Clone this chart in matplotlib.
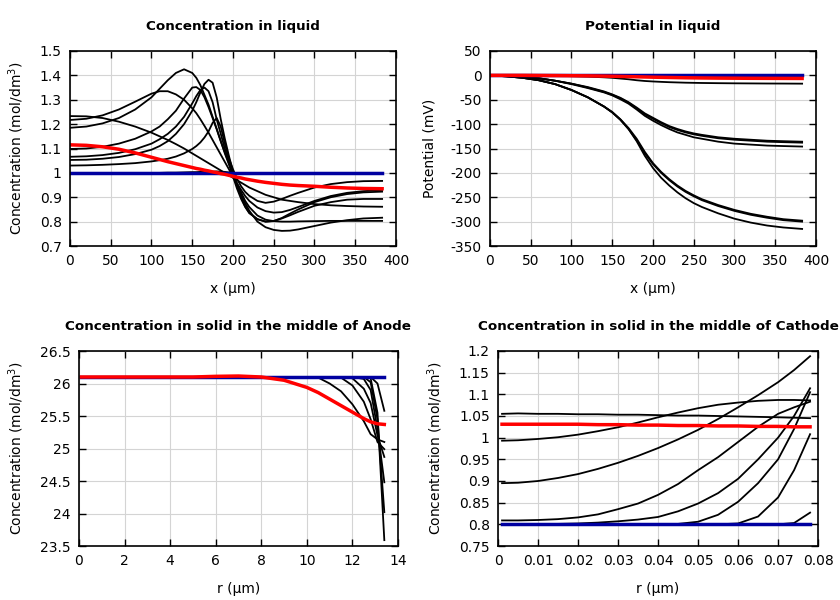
#import libraries
import matplotlib
matplotlib.use("Agg")
import matplotlib.pyplot as plt
from matplotlib.ticker import FuncFormatter, MultipleLocator

#liquid concentration data (x in um)
x_cl = [0, 20, 40, 60, 80, 100, 110, 120, 130, 140, 150, 155, 160, 165, 170, 175, 180, 185, 190, 195,
        200, 205, 210, 215, 220, 230, 240, 250, 260, 270, 280, 300, 320, 340, 360, 383]

conc_liq_t0 = [1.0, 1.0, 1.0, 1.0, 1.0, 1.0, 1.0, 1.001, 1.001, 1.002, 1.003, 1.003, 1.004, 1.004, 1.005, 1.005, 1.006, 1.005, 1.004, 1.002,
               0.999, 0.997, 0.996, 0.996, 0.997, 0.998, 0.999, 1.0, 1.0, 1.0, 1.0, 1.0, 1.0, 1.0, 1.0, 1.0]
conc_liq_1 = [1.030, 1.031, 1.033, 1.036, 1.040, 1.047, 1.052, 1.058, 1.067, 1.08, 1.098, 1.11, 1.125, 1.145, 1.17, 1.205, 1.225, 1.19, 1.12, 1.06,
              1.015, 0.975, 0.945, 0.922, 0.906, 0.885, 0.877, 0.882, 0.893, 0.906, 0.918, 0.94, 0.954, 0.962, 0.966, 0.967]
conc_liq_2 = [1.098, 1.10, 1.107, 1.12, 1.14, 1.17, 1.19, 1.22, 1.255, 1.305, 1.35, 1.352, 1.34, 1.31, 1.27, 1.225, 1.18, 1.13, 1.085, 1.04,
              0.995, 0.955, 0.92, 0.885, 0.86, 0.825, 0.808, 0.802, 0.80, 0.80, 0.801, 0.802, 0.803, 0.803, 0.803, 0.803]
conc_liq_3 = [1.066, 1.068, 1.073, 1.082, 1.097, 1.12, 1.138, 1.16, 1.19, 1.23, 1.285, 1.315, 1.34, 1.35, 1.335, 1.29, 1.22, 1.16, 1.10, 1.045,
              0.985, 0.935, 0.893, 0.86, 0.835, 0.81, 0.80, 0.803, 0.813, 0.826, 0.84, 0.865, 0.88, 0.89, 0.893, 0.893]
conc_liq_4 = [1.053, 1.054, 1.058, 1.065, 1.077, 1.095, 1.11, 1.13, 1.16, 1.2, 1.255, 1.29, 1.33, 1.365, 1.382, 1.37, 1.31, 1.22, 1.14, 1.07,
              1.005, 0.95, 0.9, 0.862, 0.836, 0.81, 0.80, 0.802, 0.815, 0.833, 0.85, 0.88, 0.90, 0.913, 0.92, 0.923]
conc_liq_5 = [1.185, 1.19, 1.203, 1.225, 1.26, 1.31, 1.345, 1.38, 1.41, 1.425, 1.41, 1.39, 1.36, 1.32, 1.28, 1.23, 1.18, 1.13, 1.08, 1.035,
              0.99, 0.95, 0.91, 0.875, 0.845, 0.80, 0.777, 0.766, 0.762, 0.763, 0.768, 0.782, 0.796, 0.806, 0.813, 0.816]
conc_liq_6 = [1.217, 1.222, 1.236, 1.26, 1.292, 1.325, 1.335, 1.335, 1.322, 1.30, 1.265, 1.245, 1.22, 1.193, 1.165, 1.135, 1.105, 1.075, 1.045, 1.015,
              0.985, 0.957, 0.93, 0.905, 0.885, 0.858, 0.843, 0.837, 0.839, 0.848, 0.86, 0.885, 0.905, 0.918, 0.925, 0.93]
conc_liq_7 = [1.233, 1.232, 1.225, 1.21, 1.19, 1.165, 1.15, 1.135, 1.118, 1.10, 1.08, 1.07, 1.06, 1.05, 1.04, 1.03, 1.02, 1.01, 1.0, 0.99,
              0.98, 0.97, 0.96, 0.95, 0.94, 0.925, 0.91, 0.90, 0.89, 0.885, 0.88, 0.872, 0.867, 0.864, 0.862, 0.861]
conc_liq_red = [1.115, 1.113, 1.107, 1.097, 1.082, 1.064, 1.055, 1.046, 1.038, 1.03, 1.022, 1.018, 1.015, 1.011, 1.008, 1.004, 1.001, 0.997, 0.994, 0.99,
                0.986, 0.982, 0.979, 0.975, 0.972, 0.966, 0.961, 0.957, 0.953, 0.95, 0.948, 0.945, 0.941, 0.938, 0.936, 0.935]
conc_liq_blue = [1.0] * len(x_cl)

#liquid potential data (x in um)
x_pot = [0, 20, 40, 60, 80, 100, 120, 140, 150, 160, 170, 180, 190, 200, 210, 220, 230, 240, 250, 260, 280, 300, 320, 340, 360, 383]

pot_top_1 = [0, 0, -0.2, -0.5, -1, -1.6, -2.5, -4, -5, -6.5, -8, -10, -11.5, -12.5, -13.3, -14, -14.5, -15, -15.3, -15.6, -16, -16.3, -16.5, -16.7, -16.8, -17]
pot_top_2 = [0, 0, 0, -0.1, -0.2, -0.4, -0.6, -0.9, -1.1, -1.3, -1.6, -1.9, -2.2, -2.5, -2.7, -2.9, -3.0, -3.1, -3.2, -3.3, -3.4, -3.5, -3.5, -3.6, -3.6, -3.6]
pot_mid_1 = [0, -1, -3, -6, -11, -17, -24, -33, -39, -46, -55, -66, -78, -87, -96, -104, -110, -115, -119, -122, -127, -130, -132, -134, -135, -136]
pot_mid_2 = [0, -1, -3, -6, -11, -17, -25, -34, -40, -47, -56, -68, -80, -89, -98, -106, -112, -117, -121, -124, -129, -132, -134, -136, -137, -138]
pot_mid_3 = [0, -1, -3, -6, -11, -18, -26, -35, -41, -49, -58, -70, -83, -93, -102, -110, -117, -122, -127, -130, -136, -140, -142, -144, -145, -146]
pot_low_1 = [0, -2, -5, -10, -18, -30, -45, -64, -75, -90, -108, -130, -157, -180, -198, -213, -226, -237, -246, -254, -266, -276, -284, -290, -295, -298]
pot_low_2 = [0, -2, -5, -10, -18, -30, -45, -64, -76, -91, -110, -133, -160, -182, -200, -215, -228, -239, -248, -256, -268, -278, -286, -292, -297, -300]
pot_low_3 = [0, -2, -5, -10, -18, -30, -45, -64, -76, -91, -110, -135, -165, -190, -210, -226, -240, -252, -262, -270, -283, -294, -302, -308, -312, -315]
pot_red = [0, 0, 0, -0.2, -0.4, -0.7, -1, -1.5, -1.8, -2.1, -2.5, -2.9, -3.3, -3.7, -4, -4.3, -4.6, -4.9, -5.1, -5.3, -5.6, -5.8, -6, -6.1, -6.2, -6.3]
pot_blue = [0] * len(x_pot)

#anode particle data (r in um)
r_an = [0.1, 1, 2, 3, 4, 5, 6, 7, 8, 9, 10, 10.5, 11, 11.5, 12, 12.5, 12.8, 13.1, 13.4]
flat_an = [26.1] * 11
an_1 = flat_an + [26.1, 26.1, 26.1, 26.1, 26.1, 26.1, 26.1, 26.1]
an_2 = flat_an + [26.09, 26.0, 25.88, 25.68, 25.42, 25.22, 25.14, 25.10]
an_3 = flat_an + [26.1, 26.1, 26.09, 25.97, 25.72, 25.45, 25.1, 24.99]
an_4 = flat_an + [26.1, 26.1, 26.1, 26.08, 25.92, 25.7, 25.2, 24.87]
an_5 = flat_an + [26.1, 26.1, 26.1, 26.1, 26.07, 25.9, 25.3, 24.48]
an_6 = flat_an + [26.1, 26.1, 26.1, 26.1, 26.1, 26.02, 25.45, 24.02]
an_7 = flat_an + [26.1, 26.1, 26.1, 26.1, 26.1, 26.08, 25.55, 23.59]
an_8 = flat_an + [26.1, 26.1, 26.1, 26.1, 26.1, 26.1, 26.0, 25.58]
an_red = [26.1, 26.1, 26.1, 26.1, 26.1, 26.1, 26.11, 26.115, 26.1, 26.05, 25.94, 25.86, 25.76, 25.66, 25.56, 25.46, 25.41, 25.38, 25.37]
an_blue = [26.1] * len(r_an)

#cathode particle data (r in um)
r_ca = [0.001, 0.005, 0.01, 0.015, 0.02, 0.025, 0.03, 0.035, 0.04, 0.045, 0.05, 0.055, 0.06, 0.065, 0.07, 0.074, 0.078]
ca_a = [1.055, 1.056, 1.055, 1.055, 1.054, 1.054, 1.053, 1.053, 1.052, 1.051, 1.051, 1.05, 1.049, 1.048, 1.047, 1.046, 1.045]
ca_b = [0.993, 0.994, 0.997, 1.001, 1.007, 1.015, 1.024, 1.035, 1.047, 1.058, 1.068, 1.076, 1.081, 1.085, 1.087, 1.087, 1.086]
ca_c = [0.895, 0.896, 0.900, 0.907, 0.916, 0.928, 0.942, 0.958, 0.976, 0.996, 1.018, 1.043, 1.07, 1.098, 1.128, 1.156, 1.188]
ca_d = [0.809, 0.809, 0.810, 0.812, 0.816, 0.823, 0.835, 0.848, 0.868, 0.893, 0.925, 0.955, 0.99, 1.025, 1.055, 1.07, 1.083]
ca_e = [0.80, 0.80, 0.80, 0.801, 0.802, 0.804, 0.807, 0.811, 0.817, 0.83, 0.848, 0.872, 0.905, 0.95, 1.0, 1.05, 1.114]
ca_f = [0.80, 0.80, 0.80, 0.80, 0.80, 0.80, 0.80, 0.80, 0.80, 0.801, 0.806, 0.822, 0.852, 0.895, 0.95, 1.02, 1.105]
ca_g = [0.80, 0.80, 0.80, 0.80, 0.80, 0.80, 0.80, 0.80, 0.80, 0.80, 0.80, 0.80, 0.802, 0.818, 0.862, 0.925, 1.008]
ca_h = [0.80, 0.80, 0.80, 0.80, 0.80, 0.80, 0.80, 0.80, 0.80, 0.80, 0.80, 0.80, 0.80, 0.80, 0.80, 0.803, 0.827]
ca_0 = [0.80] * len(r_ca)
ca_red = [1.031, 1.031, 1.031, 1.031, 1.031, 1.03, 1.03, 1.029, 1.029, 1.028, 1.028, 1.027, 1.027, 1.026, 1.026, 1.025, 1.025]
ca_blue = [0.80] * len(r_ca)

#styles
BLUE = "#0000a0"
RED = "#ff0000"
fmt = FuncFormatter(lambda v, p: "%g" % round(v, 6))


def styleAxes(ax, title, xlab, ylab, xlim, ylim, xstep, ystep):
    ax.set_title(title, fontsize=9.7, fontweight="bold", pad=15)
    ax.set_xlabel(xlab, fontsize=10, labelpad=10)
    ax.set_ylabel(ylab, fontsize=10, labelpad=10)
    ax.set_xlim(xlim)
    ax.set_ylim(ylim)
    ax.xaxis.set_major_locator(MultipleLocator(xstep))
    ax.yaxis.set_major_locator(MultipleLocator(ystep))
    ax.xaxis.set_major_formatter(fmt)
    ax.yaxis.set_major_formatter(fmt)
    ax.tick_params(direction="in", top=True, right=True, length=5, width=1, labelsize=10, pad=6)
    ax.grid(True, color="#d4d4d4", lw=0.8)
    ax.set_axisbelow(True)
    for s in ax.spines.values():
        s.set_linewidth(1.2)


def plotGroup(ax, x, blacks, red, blue):
    for y in blacks:
        ax.plot(x, y, color="black", lw=1.3)
    ax.plot(x, blue, color=BLUE, lw=2.5)
    ax.plot(x, red, color=RED, lw=2.5)


fig = plt.figure(figsize=(8.4, 6), dpi=100)
ax1 = fig.add_axes([0.0833, 0.59, 0.3881, 0.325])
ax2 = fig.add_axes([0.5833, 0.59, 0.3881, 0.325])
ax3 = fig.add_axes([0.094, 0.09, 0.3798, 0.325])
ax4 = fig.add_axes([0.5929, 0.09, 0.381, 0.325])

conc_label = "Concentration (mol/dm$^3$)"

plotGroup(ax1, x_cl, [conc_liq_t0, conc_liq_1, conc_liq_2, conc_liq_3, conc_liq_4,
                      conc_liq_5, conc_liq_6, conc_liq_7], conc_liq_red, conc_liq_blue)
styleAxes(ax1, "Concentration in liquid", "x (µm)", conc_label, (0, 400), (0.7, 1.5), 50, 0.1)

plotGroup(ax2, x_pot, [pot_top_1, pot_top_2, pot_mid_1, pot_mid_2, pot_mid_3,
                       pot_low_1, pot_low_2, pot_low_3], pot_red, pot_blue)
styleAxes(ax2, "Potential in liquid", "x (µm)", "Potential (mV)", (0, 400), (-350, 50), 50, 50)

plotGroup(ax3, r_an, [an_1, an_2, an_3, an_4, an_5, an_6, an_7, an_8], an_red, an_blue)
styleAxes(ax3, "Concentration in solid in the middle of Anode", "r (µm)", conc_label, (0, 14), (23.5, 26.5), 2, 0.5)

plotGroup(ax4, r_ca, [ca_0, ca_a, ca_b, ca_c, ca_d, ca_e, ca_f, ca_g, ca_h], ca_red, ca_blue)
styleAxes(ax4, "Concentration in solid in the middle of Cathode", "r (µm)", conc_label, (0, 0.08), (0.75, 1.2), 0.01, 0.05)

fig.savefig("out.png", dpi=100)
